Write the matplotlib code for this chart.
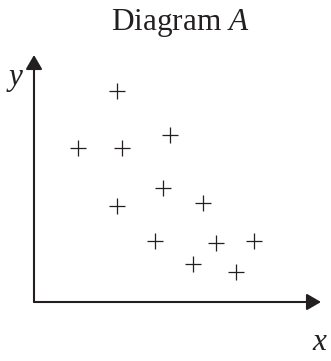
import matplotlib
matplotlib.use('Agg')
import matplotlib.pyplot as plt

# ===== DADOS (unidades arbitrárias, origem no canto dos eixos) =====
x_vals = [8.3, 4.4, 8.8, 13.6, 12.9, 8.3, 16.9, 12.1, 18.2, 22.0, 15.9, 20.2]
y_vals = [21.1, 15.4, 15.4, 16.7, 11.4, 9.6, 9.9, 6.1, 5.9, 6.1, 3.8, 3.0]
title = 'Diagram $A$'
x_label = '$x$'
y_label = '$y$'

ink = '#231f20'
plt.rcParams['font.family'] = 'Liberation Serif'
plt.rcParams['mathtext.fontset'] = 'custom'
plt.rcParams['mathtext.rm'] = 'Liberation Serif'
plt.rcParams['mathtext.it'] = 'Liberation Serif:italic'

fig = plt.figure(figsize=(3.31, 3.61), dpi=100)
ax = fig.add_axes([0, 0, 1, 1])
ax.set_xlim(-3.4, 29.7)
ax.set_ylim(-5.9, 30.2)
ax.axis('off')

# eixos com setas
arrow_kw = dict(arrowstyle='-|>,head_length=0.86,head_width=0.5',
                mutation_scale=10, lw=1.5, color=ink, shrinkA=0, shrinkB=0)
ax.annotate('', xy=(28.7, 0), xytext=(0, 0), arrowprops=arrow_kw)
ax.annotate('', xy=(0, 24.7), xytext=(0, 0), arrowprops=arrow_kw)

# pontos
ax.plot(x_vals, y_vals, linestyle='none', marker='+', markersize=11,
        markeredgewidth=0.9, color=ink)

ax.text(14.6, 27.9, title, ha='center', va='center', fontsize=22.5, color=ink)
ax.text(-1.9, 22.3, y_label, ha='center', va='center', fontsize=22.5, color=ink)
ax.text(28.6, -4.1, x_label, ha='center', va='center', fontsize=22.5, color=ink)

plt.savefig('out.png', dpi=100)
